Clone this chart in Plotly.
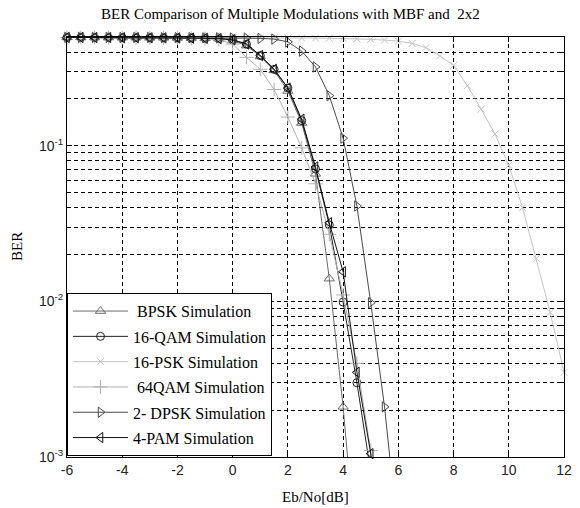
import plotly.graph_objects as go

# ---------------- data ----------------
snr_bpsk = [-6, -5.5, -5, -4.5, -4, -3.5, -3, -2.5, -2, -1.5, -1, -0.5, 0, 0.5, 1, 1.5, 2, 2.5, 3, 3.5, 4, 4.5]
ber_bpsk = [0.497, 0.497, 0.496, 0.496, 0.495, 0.495, 0.494, 0.494, 0.493, 0.492, 0.49, 0.488,
            0.475, 0.44, 0.375, 0.305, 0.225, 0.14, 0.066, 0.014, 0.0021, 0.00021]

snr_16qam = [-6, -5.5, -5, -4.5, -4, -3.5, -3, -2.5, -2, -1.5, -1, -0.5, 0, 0.5, 1, 1.5, 2, 2.5, 3, 3.5, 4, 4.5, 5]
ber_16qam = [0.497, 0.497, 0.496, 0.496, 0.495, 0.495, 0.494, 0.494, 0.493, 0.492, 0.49, 0.488,
             0.48, 0.45, 0.38, 0.31, 0.235, 0.145, 0.071, 0.031, 0.0099, 0.003, 0.0008]

snr_16psk = [-6, -5.5, -5, -4.5, -4, -3.5, -3, -2.5, -2, -1.5, -1, -0.5, 0, 0.5, 1, 1.5, 2, 2.5,
             3, 3.5, 4, 4.5, 5, 5.5, 6, 6.5, 7, 7.5, 8, 8.5, 9, 9.5, 10, 10.5, 11, 11.5, 12]
ber_16psk = [0.497, 0.497, 0.497, 0.497, 0.497, 0.496, 0.496, 0.496, 0.496, 0.495, 0.495, 0.495,
             0.494, 0.494, 0.494, 0.493, 0.493, 0.492, 0.492, 0.491, 0.49, 0.487, 0.483,
             0.478, 0.47, 0.455, 0.427, 0.378, 0.329, 0.243, 0.172, 0.119, 0.075, 0.040,
             0.0188, 0.0085, 0.0035]

snr_64qam = [-6, -5.5, -5, -4.5, -4, -3.5, -3, -2.5, -2, -1.5, -1, -0.5, 0, 0.5, 1, 1.5, 2, 2.5, 3, 3.5, 4, 4.5, 5, 5.5]
ber_64qam = [0.497, 0.497, 0.496, 0.496, 0.495, 0.495, 0.494, 0.493, 0.492, 0.49, 0.488, 0.48,
             0.45, 0.37, 0.31, 0.23, 0.153, 0.097, 0.057, 0.027, 0.011, 0.004, 0.0011, 0.0002]

snr_dpsk = [-6, -5.5, -5, -4.5, -4, -3.5, -3, -2.5, -2, -1.5, -1, -0.5, 0, 0.5, 1, 1.5, 2, 2.5, 3, 3.5, 4, 4.5, 5, 5.5, 6]
ber_dpsk = [0.497, 0.497, 0.497, 0.497, 0.496, 0.496, 0.496, 0.495, 0.495, 0.495, 0.494, 0.494,
            0.493, 0.492, 0.49, 0.485, 0.465, 0.406, 0.321, 0.21, 0.112, 0.041, 0.0098, 0.0021, 0.0003]

snr_4pam = [-6, -5.5, -5, -4.5, -4, -3.5, -3, -2.5, -2, -1.5, -1, -0.5, 0, 0.5, 1, 1.5, 2, 2.5, 3, 3.5, 4, 4.5, 5, 5.5]
ber_4pam = [0.497, 0.497, 0.496, 0.496, 0.495, 0.495, 0.494, 0.494, 0.493, 0.492, 0.49, 0.488,
            0.48, 0.45, 0.38, 0.31, 0.235, 0.148, 0.073, 0.032, 0.0155, 0.0035, 0.00105, 0.0002]

names = ["\u00a0BPSK Simulation", "16-QAM Simulation", "16-PSK Simulation",
         "\u00a064QAM Simulation", "2- DPSK Simulation", "4-PAM Simulation"]

x_ticks = [-6, -4, -2, 0, 2, 4, 6, 8, 10, 12]
x_ticktext = ["-6", "-4", "-2", "0", "2", "4", "6", "8", "10", "12"]
y_ticks = [0.001, 0.01, 0.1]
y_ticktext = ["10<sup>-3</sup>", "10<sup>-2</sup>", "10<sup>-1</sup>"]

# ---------------- styles ----------------
series = [
    (snr_bpsk, ber_bpsk, "triangle-up-open", "#6a6a6a", 9),
    (snr_16qam, ber_16qam, "circle-open", "#222222", 8),
    (snr_16psk, ber_16psk, "x-thin-open", "#c4c4c4", 7),
    (snr_64qam, ber_64qam, "cross-thin-open", "#b0b0b0", 10),
    (snr_dpsk, ber_dpsk, "triangle-right-open", "#4a4a4a", 9),
    (snr_4pam, ber_4pam, "triangle-left-open", "#111111", 9),
]

SERIF = "Liberation Serif, Times New Roman, serif"
SANS = "Liberation Sans, Arial, sans-serif"

fig = go.Figure()
for i, ((xs, ys, sym, col, sz), nm) in enumerate(zip(series, names)):
    fig.add_trace(go.Scatter(
        x=xs, y=ys, name=nm, mode="lines+markers", legendgroup=f"g{i}",
        line=dict(color=col, width=1),
        marker=dict(symbol=sym, size=sz, color=col, line=dict(color=col, width=1)),
        cliponaxis=False,
    ))

W, H = 580, 508
L, R, T, B = 67, 8, 37, 51

fig.update_layout(
    width=W, height=H,
    margin=dict(l=L, r=R, t=T, b=B),
    paper_bgcolor="white", plot_bgcolor="white",
    showlegend=True,
    legend=dict(
        x=0, y=0.002, xanchor="left", yanchor="bottom",
        bgcolor="white", bordercolor="black", borderwidth=1,
        font=dict(family=SERIF, size=16, color="black"),
        itemwidth=55, tracegroupgap=1.5,
    ),
    font=dict(family=SANS, color="#222222"),
)

fig.update_xaxes(
    range=[-6, 12], tickvals=x_ticks, ticktext=x_ticktext,
    showline=True, linecolor="black", linewidth=1, mirror="ticks",
    ticks="inside", ticklen=5, tickcolor="black",
    showgrid=True, gridcolor="black", gridwidth=1, griddash="4px,3px",
    zeroline=False, tickfont=dict(family=SANS, size=14, color="#222222"),
)
fig.update_yaxes(
    type="log", range=[-3, -0.30103], tickvals=y_ticks, ticktext=y_ticktext,
    showline=True, linecolor="black", linewidth=1, mirror="ticks",
    ticks="inside", ticklen=5, tickcolor="black",
    showgrid=True, gridcolor="black", gridwidth=1, griddash="4px,3px",
    minor=dict(dtick="D1", showgrid=True, gridcolor="black", gridwidth=1,
               griddash="4px,3px", ticks="inside", ticklen=3, tickcolor="black"),
    zeroline=False, tickfont=dict(family=SANS, size=14, color="#222222"),
)

fig.add_annotation(
    text="BER Comparison of Multiple Modulations with MBF and \u00a02x2",
    xref="paper", yref="paper", x=(294 - L) / (W - L - R), y=1, yshift=(T - 14),
    xanchor="center", yanchor="middle", showarrow=False,
    font=dict(family=SERIF, size=15, color="black"),
)
fig.add_annotation(
    text="Eb/No[dB]", xref="paper", yref="paper", x=0.5, y=0, yshift=-(497 - (H - B)),
    xanchor="center", yanchor="middle", showarrow=False,
    font=dict(family=SERIF, size=15, color="black"),
)
fig.add_annotation(
    text="BER", xref="paper", yref="paper", x=0, y=0.5, xshift=-(L - 17),
    xanchor="center", yanchor="middle", textangle=-90, showarrow=False,
    font=dict(family=SERIF, size=15, color="black"),
)

fig.write_html("out.html")
